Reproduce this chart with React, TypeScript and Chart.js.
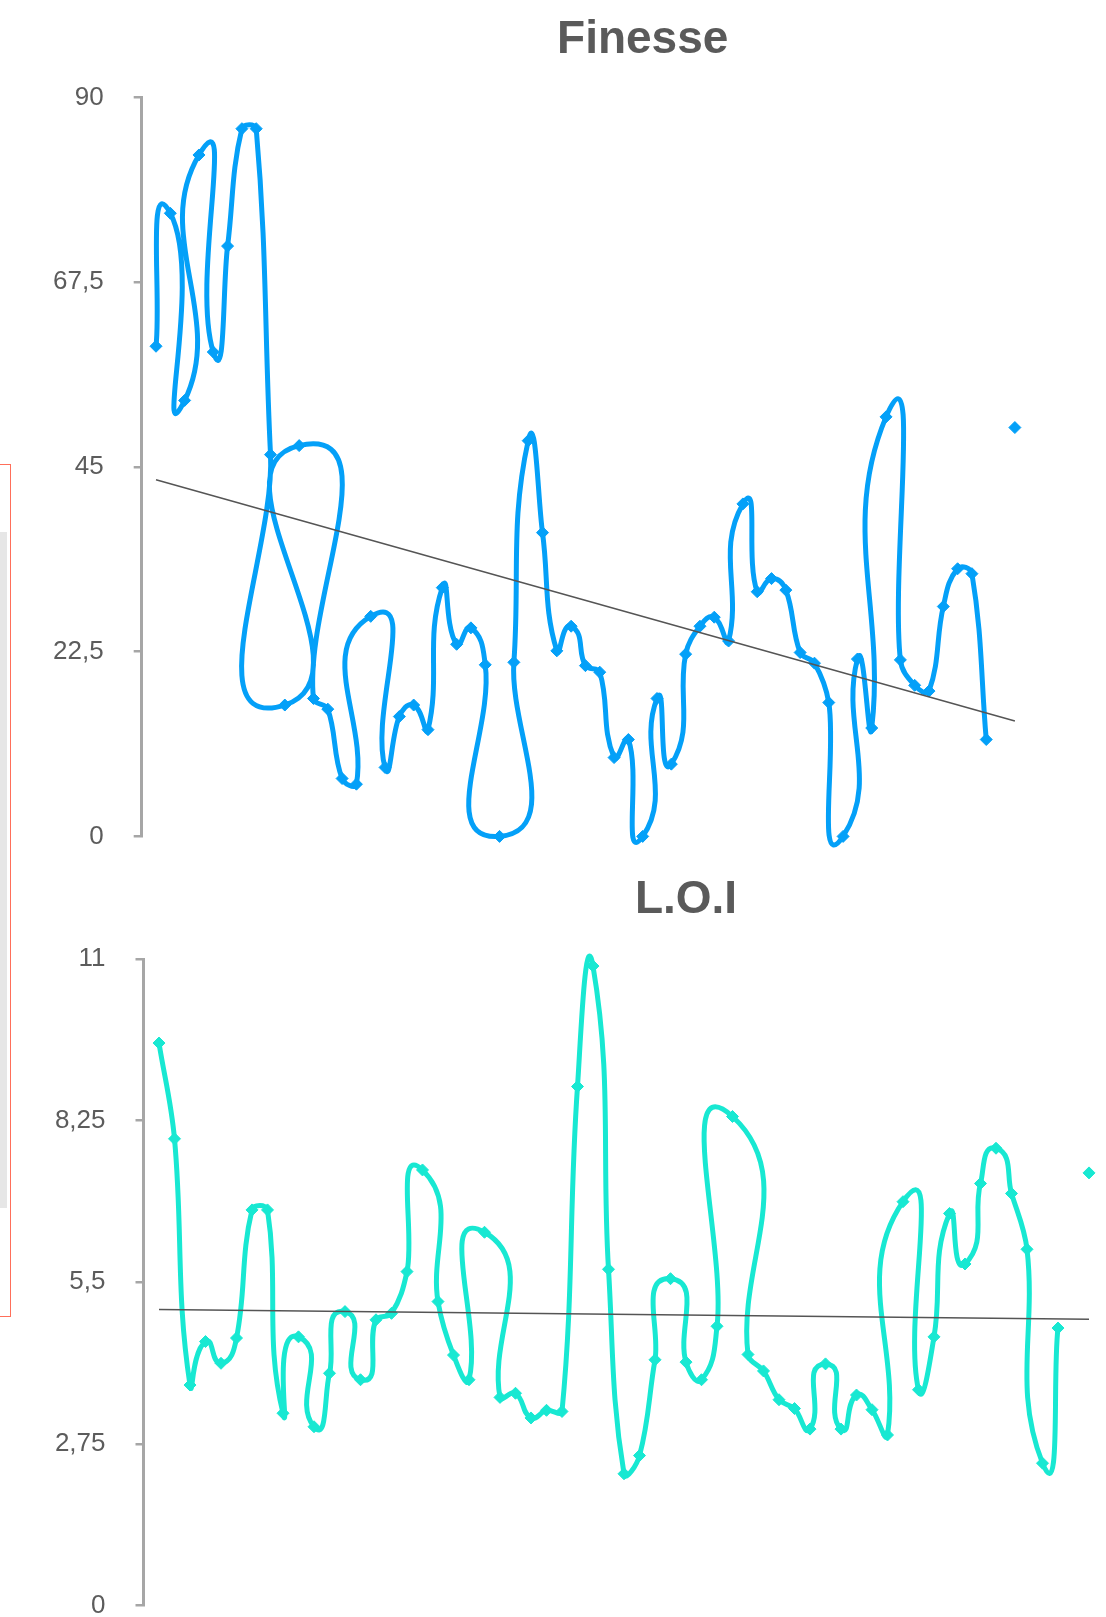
import React, { useEffect, useRef } from "react";
import { Chart, registerables } from "chart.js";

Chart.register(...registerables);

// ---------- data ----------
const finesseTitle = "Finesse";
const finesseValues: (number | null)[] = [
  59.7, 75.9, 53.1, 83.0, 59.0, 71.9, 86.2, 86.2, 46.5, 16.0,
  47.6, 16.8, 15.5, 7.05, 6.36, 26.8, 8.4, 14.6, 16.0, 13.0,
  30.3, 23.4, 25.4, 20.9, 0, 21.2, 48.2, 37.0, 22.6, 25.6,
  20.8, 20.0, 9.6, 11.8, 0, 16.8, 8.8, 22.2, 25.6, 26.7,
  23.8, 40.5, 29.8, 31.4, 30.0, 22.4, 21.1, 16.3, 0, 21.6,
  13.2, 51.1, 21.5, 18.4, 17.7, 28.0, 32.6, 32.0, 11.8, null,
  49.8,
];
const finesseTicks = [0, 22.5, 45, 67.5, 90];

const loiTitle = "L.O.I";
const loiValues: (number | null)[] = [
  9.57, 7.94, 3.75, 4.49, 4.12, 4.55, 6.73, 6.73, 3.27, 4.57,
  3.04, 3.95, 5.0, 3.84, 4.86, 4.97, 5.68, 7.41, 5.17, 4.26,
  3.84, 6.35, 3.54, 3.61, 3.19, 3.32, 3.3, 8.83, 10.88, 5.72,
  2.24, 2.55, 4.18, 5.56, 4.14, 3.84, 4.75, 8.32, 4.27, 3.99,
  3.5, 3.35, 3.0, 4.11, 3.0, 3.58, 3.33, 2.9, 6.87, 3.67,
  4.57, 6.67, 5.81, 7.18, 7.78, 7.01, 6.06, 2.42, 4.72, null,
  7.36,
];
const loiTicks = [0, 2.75, 5.5, 8.25, 11];

const xRange = [0, 70];

// ---------- helpers ----------
const FONT = "'Liberation Sans', Arial, Helvetica, sans-serif";

function toPoints(values: (number | null)[]) {
  return values.map((v, i) => ({ x: i + 1, y: v }));
}

function trend(values: (number | null)[]) {
  const pts = toPoints(values).filter((p) => p.y !== null) as { x: number; y: number }[];
  const n = pts.length;
  const mx = pts.reduce((s, p) => s + p.x, 0) / n;
  const my = pts.reduce((s, p) => s + p.y, 0) / n;
  let num = 0;
  let den = 0;
  pts.forEach((p) => {
    num += (p.x - mx) * (p.y - my);
    den += (p.x - mx) * (p.x - mx);
  });
  const b = num / den;
  const a = my - b * mx;
  const x0 = pts[0].x;
  const x1 = pts[n - 1].x;
  return [
    { x: x0, y: a + b * x0 },
    { x: x1, y: a + b * x1 },
  ];
}

// loose parametric spline (tangent along neighbours, length from segment)
const looseSpline = {
  id: "looseSpline",
  beforeDatasetDraw(chart: any, args: any) {
    const ds = chart.data.datasets[args.index];
    if (!ds || !ds.looseSpline) return;
    const meta = args.meta;
    const pts = meta.data as any[];
    const k = 0.38;
    const ok = (p: any) => p && !p.skip;
    for (let i = 0; i < pts.length; i++) {
      const p = pts[i];
      if (!ok(p)) continue;
      const prev = ok(pts[i - 1]) ? pts[i - 1] : null;
      const next = ok(pts[i + 1]) ? pts[i + 1] : null;
      const a = prev || p;
      const b = next || p;
      let dx = b.x - a.x;
      let dy = b.y - a.y;
      const len = Math.hypot(dx, dy) || 1;
      dx /= len;
      dy /= len;
      const dPrev = prev ? Math.hypot(p.x - prev.x, p.y - prev.y) : 0;
      const dNext = next ? Math.hypot(next.x - p.x, next.y - p.y) : 0;
      p.cp1x = p.x - dx * dPrev * k;
      p.cp1y = p.y - dy * dPrev * k;
      p.cp2x = p.x + dx * dNext * k;
      p.cp2y = p.y + dy * dNext * k;
    }
    meta.dataset._pointsUpdated = true;
  },
};

type Cfg = {
  title: string;
  values: (number | null)[];
  ticks: number[];
  color: string;
  axisWidth: number;
  titlePad: { top: number; bottom: number };
  padding: { left: number; right: number; top: number; bottom: number };
};

function buildConfig(c: Cfg): any {
  return {
    type: "line",
    data: {
      datasets: [
        {
          label: c.title + " trend",
          data: trend(c.values),
          borderColor: "#555555",
          borderWidth: 1.5,
          pointRadius: 0,
          tension: 0,
          order: 0,
          clip: false,
        },
        {
          label: c.title,
          looseSpline: true,
          data: toPoints(c.values),
          borderColor: c.color,
          backgroundColor: c.color,
          borderWidth: 5,
          tension: 0.4,
          pointStyle: "rectRot",
          pointRadius: 6,
          pointBorderWidth: 1,
          pointBorderColor: c.color,
          pointBackgroundColor: c.color,
          spanGaps: false,
          order: 1,
          clip: false,
        },
      ],
    },
    options: {
      responsive: false,
      animation: false,
      devicePixelRatio: 1,
      layout: { padding: c.padding },
      plugins: {
        legend: { display: false },
        tooltip: { enabled: false },
        title: {
          display: true,
          text: c.title,
          fullSize: false,
          color: "#5a5a5a",
          font: { family: FONT, size: 46, weight: "bold" },
          padding: c.titlePad,
        },
      },
      scales: {
        x: {
          type: "linear",
          display: false,
          min: xRange[0],
          max: xRange[1],
        },
        y: {
          type: "linear",
          min: c.ticks[0],
          max: c.ticks[c.ticks.length - 1],
          afterBuildTicks: (scale: any) => {
            scale.ticks = c.ticks.map((v) => ({ value: v }));
          },
          afterFit: (scale: any) => {
            scale.width = c.axisWidth;
          },
          ticks: {
            color: "#5c5c5c",
            font: { family: FONT, size: 26 },
            padding: 30,
            callback: (v: any) => String(v).replace(".", ","),
          },
          grid: {
            drawOnChartArea: false,
            drawTicks: true,
            tickLength: 8,
            color: "#a6a6a6",
            lineWidth: 2.5,
          },
          border: { display: true, color: "#a6a6a6", width: 3 },
        },
      },
    },
    plugins: [looseSpline],
  };
}

function ChartCanvas(props: { cfg: Cfg; left: number; top: number; width: number; height: number }) {
  const ref = useRef<HTMLCanvasElement | null>(null);
  useEffect(() => {
    if (!ref.current) return;
    const chart = new Chart(ref.current, buildConfig(props.cfg));
    return () => chart.destroy();
  }, []);
  return (
    <canvas
      ref={ref}
      width={props.width}
      height={props.height}
      style={{
        position: "absolute",
        left: props.left,
        top: props.top,
        width: props.width,
        height: props.height,
      }}
    />
  );
}

export default function App() {
  const finesseCfg: Cfg = {
    title: finesseTitle,
    values: finesseValues,
    ticks: finesseTicks,
    color: "#04a0f8",
    axisWidth: 141.7,
    titlePad: { top: 12.8, bottom: 29.5 },
    padding: { left: 0, right: 16.3, top: 0, bottom: 0 },
  };
  const loiCfg: Cfg = {
    title: loiTitle,
    values: loiValues,
    ticks: loiTicks,
    color: "#18e8d2",
    axisWidth: 143.5,
    titlePad: { top: 23, bottom: 30.8 },
    padding: { left: 0, right: 11.5, top: 0, bottom: 0 },
  };
  return (
    <div
      style={{
        position: "absolute",
        left: 0,
        top: 0,
        width: 1106,
        height: 1617,
        overflow: "hidden",
        background: "#ffffff",
      }}
    >
      <div
        style={{
          position: "absolute",
          left: -100,
          top: 464,
          width: 109,
          height: 851,
          border: "1px solid #ff6f5a",
        }}
      />
      <div
        style={{
          position: "absolute",
          left: -100,
          top: 532,
          width: 107,
          height: 676,
          background: "#e6e6e6",
        }}
      />
      <ChartCanvas cfg={finesseCfg} left={0} top={0} width={1160} height={882} />
      <ChartCanvas cfg={loiCfg} left={0} top={850} width={1240} height={801} />
    </div>
  );
}
